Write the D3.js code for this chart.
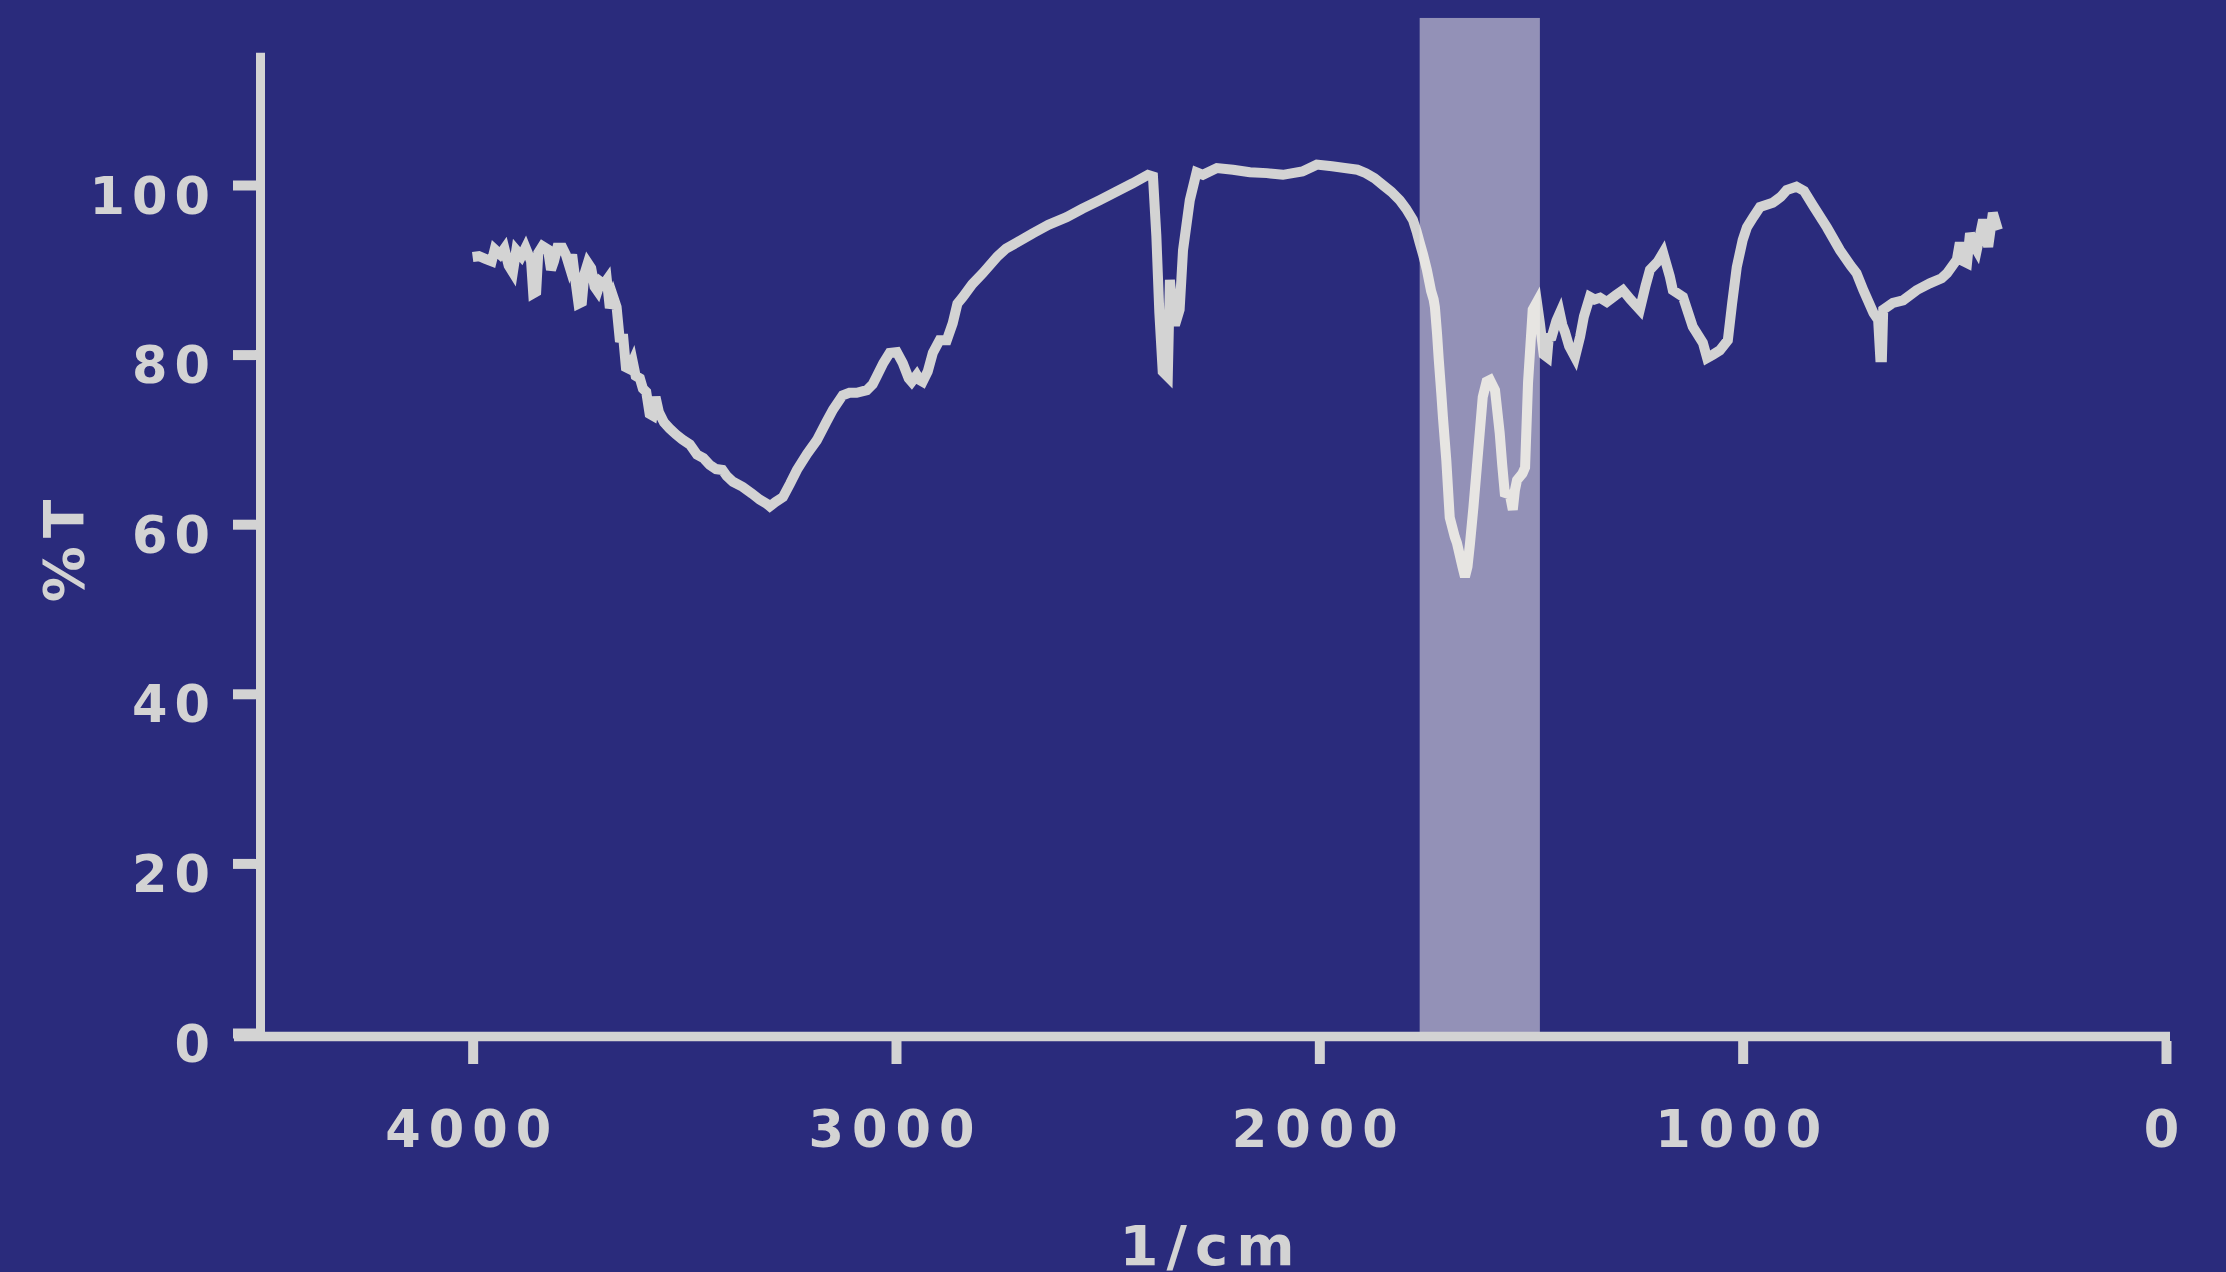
<!DOCTYPE html>
<html>
<head>
<meta charset="utf-8">
<script src="https://cdn.jsdelivr.net/npm/d3@7"></script>
<style>
  html, body { margin: 0; padding: 0; background: #2a2b7c; }
  svg { display: block; }
</style>
</head>
<body>
<div id="chart"></div>
<script>

// wavenumber (1/cm) and transmittance (%T)
var wavenumber = [4000,3985,3970,3955,3948,3935,3925,3915,3905,3897,3885,3875,3862,3857,3850,3845,3835,3822,3815,3808,
  3800,3788,3780,3772,3765,3758,3750,3742,3736,3728,3720,3712,3705,3698,3690,3683,3676,3668,3660,3652,
  3645,3638,3630,3622,3615,3605,3598,3590,3582,3575,3568,3560,3548,3535,3520,3505,3487,3470,3455,3440,
  3425,3410,3400,3385,3362,3340,3322,3305,3298,3285,3267,3250,3234,3210,3187,3165,3149,3126,3110,3093,
  3069,3055,3046,3030,3015,2998,2984,2970,2963,2951,2944,2937,2925,2913,2897,2880,2866,2855,2842,2820,
  2795,2760,2740,2715,2677,2640,2597,2560,2519,2480,2441,2405,2393,2385,2378,2370,2358,2353,2347,2341,
  2330,2322,2306,2290,2275,2242,2204,2164,2124,2086,2040,2006,1970,1940,1910,1890,1870,1850,1830,1810,
  1795,1779,1770,1763,1755,1746,1740,1736,1730,1727,1722,1718,1712,1708,1700,1692,1680,1675,1662,1656,
  1650,1644,1636,1628,1614,1605,1597,1585,1574,1568,1562,1550,1543,1538,1533,1520,1514,1507,1496,1486,
  1479,1470,1462,1458,1451,1440,1432,1426,1420,1410,1396,1384,1375,1361,1350,1337,1321,1300,1283,1265,
  1243,1230,1219,1200,1188,1172,1165,1141,1118,1094,1084,1070,1054,1035,1025,1014,1000,990,975,959,
  929,910,896,873,855,834,801,770,745,731,715,691,680,675,671,668,645,621,589,558,
  530,517,494,487,478,470,463,455,447,432,420,409,397];

var transmittance = [91.5,91.6,91.3,91.0,92.4,91.8,92.5,90.5,89.7,92.3,91.6,92.6,91.0,87.2,87.4,92.0,92.8,92.4,90.0,91.0,
  92.6,92.6,91.8,90.5,91.8,89.0,86.0,86.2,89.5,90.8,90.2,88.0,87.5,88.6,88.3,88.8,85.5,86.8,85.6,81.5,
  82.4,78.5,78.3,79.2,77.5,77.2,76.0,75.6,73.0,72.8,75.0,73.2,72.0,71.3,70.6,70.0,69.4,68.2,67.8,67.0,
  66.5,66.4,65.7,65.0,64.4,63.6,62.9,62.4,62.1,62.6,63.2,64.8,66.4,68.3,69.9,72.0,73.5,75.2,75.5,75.5,
  75.8,76.5,77.4,79.0,80.2,80.3,79.0,77.2,76.8,77.6,77.0,76.8,78.0,80.2,81.7,81.7,83.7,86.0,86.8,88.3,
  89.6,91.6,92.5,93.2,94.3,95.3,96.2,97.2,98.2,99.2,100.2,101.2,101.0,94.0,85.0,78.0,77.4,88.8,85.5,83.5,
  85.3,92.3,98.2,101.5,101.2,102.0,101.8,101.5,101.4,101.2,101.6,102.4,102.2,102.0,101.8,101.4,100.8,100.0,99.2,98.2,
  97.2,95.9,94.5,93.2,91.8,90.0,88.5,87.5,86.5,85.6,82.5,79.5,75.5,72.6,67.5,60.8,58.5,57.8,55.0,53.8,
  55.0,57.8,62.0,66.7,75.0,76.8,77.0,75.8,70.8,67.0,63.7,63.5,61.7,64.0,65.2,66.0,66.7,76.7,85.3,86.2,
  83.7,80.0,79.7,82.0,82.1,84.0,84.9,83.5,82.7,81.0,79.7,82.1,84.5,86.8,86.5,86.7,86.2,87.0,87.6,86.5,
  85.3,88.0,90.0,91.0,92.0,89.2,87.6,86.8,83.3,81.4,79.6,80.0,80.5,81.7,86.0,90.3,93.5,95.0,96.2,97.4,
  97.9,98.6,99.4,99.8,99.3,97.6,95.0,92.3,90.5,89.6,87.6,84.9,84.1,79.7,79.7,85.3,86.1,86.4,87.6,88.4,
  89.0,89.6,91.2,93.2,91.0,90.8,94.3,93.0,92.3,95.9,92.7,96.7,94.7];

var xTicks = [4000, 3000, 2000, 1000, 0];
var yTicks = [0, 20, 40, 60, 80, 100];
var band = [1763, 1479];   // highlighted region, 1/cm
var xTitle = "1/cm";
var yTitle = "%T";

var W = 2226, H = 1272;
var fg = "#d3d3d3";

var svg = d3.select("#chart").append("svg")
    .attr("width", W)
    .attr("height", H)
    .style("background", "#2a2b7c");

// Scales
var x = d3.scaleLinear().domain([4500, 0]).range([261, 2166]);
var y = d3.scaleLinear().domain([0, 100]).range([1033, 185]);

var data = wavenumber.map(function (d, i) { return { w: d, t: transmittance[i] }; });

// spectrum
var line = d3.line()
    .x(function (d) { return x(d.w); })
    .y(function (d) { return y(d.t); });

svg.append("path")
    .datum(data)
    .attr("fill", "none")
    .attr("stroke", fg)
    .attr("stroke-width", 10)
    .attr("d", line);

// highlight band (drawn over the line, semi transparent)
svg.append("rect")
    .attr("x", x(band[0]))
    .attr("width", x(band[1]) - x(band[0]))
    .attr("y", y(119.7))
    .attr("height", y(0) - y(119.7))
    .attr("fill", "#fcf8f2")
    .attr("fill-opacity", 0.5);

// axis lines
svg.append("line")
    .attr("x1", 234).attr("x2", 2170)
    .attr("y1", 1036.5).attr("y2", 1036.5)
    .attr("stroke", fg).attr("stroke-width", 9.5);

svg.append("line")
    .attr("x1", 260.5).attr("x2", 260.5)
    .attr("y1", y(115.6)).attr("y2", 1041)
    .attr("stroke", fg).attr("stroke-width", 9);

// y axis
var gy = svg.append("g")
    .attr("transform", "translate(256,0)")
    .call(d3.axisLeft(y).tickValues(yTicks).tickSize(23).tickPadding(0).tickFormat(d3.format("d")));

gy.select(".domain").remove();
gy.selectAll(".tick line").attr("stroke", fg).attr("stroke-width", 10);
gy.selectAll(".tick text")
    .attr("x", -39)
    .attr("dy", "0.55em")
    .attr("fill", fg)
    .style("font-family", "DejaVu Sans")
    .style("font-weight", "bold")
    .style("font-size", "51px")
    .style("letter-spacing", "7px");

// x axis
var gx = svg.append("g")
    .attr("transform", "translate(0,1041)")
    .call(d3.axisBottom(x).tickValues(xTicks).tickSize(23).tickPadding(0).tickFormat(d3.format("d")));

gx.select(".domain").remove();
gx.selectAll(".tick line").attr("stroke", fg).attr("stroke-width", 10);
gx.selectAll(".tick text")
    .attr("y", 106)
    .attr("dy", 0)
    .attr("dx", -1)
    .attr("fill", fg)
    .style("font-family", "DejaVu Sans")
    .style("font-weight", "bold")
    .style("font-size", "51px")
    .style("letter-spacing", "8px");

// axis titles
svg.append("text")
    .attr("x", 1211)
    .attr("y", 1265)
    .attr("text-anchor", "middle")
    .attr("fill", fg)
    .style("font-family", "DejaVu Sans")
    .style("font-weight", "bold")
    .style("font-size", "56px")
    .style("letter-spacing", "8px")
    .text(xTitle);

svg.append("text")
    .attr("transform", "translate(83,547) rotate(-90)")
    .attr("text-anchor", "middle")
    .attr("fill", fg)
    .style("font-family", "DejaVu Sans")
    .style("font-weight", "bold")
    .style("font-size", "56px")
    .style("letter-spacing", "8px")
    .text(yTitle);

</script>
</body>
</html>
